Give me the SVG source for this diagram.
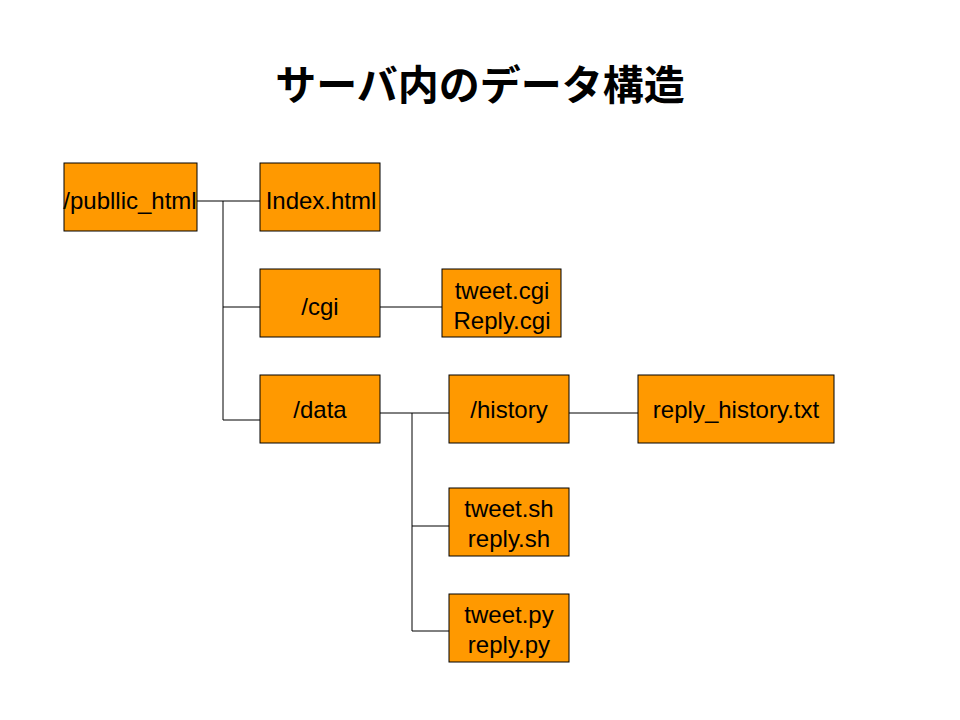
<svg xmlns="http://www.w3.org/2000/svg" width="960" height="720" viewBox="0 0 960 720">
<style>
.box{fill:#FF9900;stroke:#000;stroke-width:1}
.t{font-family:"Liberation Sans",Arial,sans-serif;font-size:24px;fill:#000;text-anchor:middle}
.title{font-family:"Noto Sans CJK JP","Noto Sans CJK SC",sans-serif;font-size:41px;font-weight:bold;fill:#000;text-anchor:middle}
.c{stroke:#000;stroke-width:1;fill:none}
</style>
<rect width="960" height="720" fill="#fff"/>
<text class="title" x="480" y="100">サーバ内のデータ構造</text>
<g id="connectors">
<path class="c" d="M197,201H260M223,201V420M223,307H260M223,420H260M380,307H442M380,413H449M412,413V631M412,526H449M412,631H449M569,413H638"/>
</g>
<g id="public_html"><rect class="box" x="64" y="163" width="133" height="68"/><text class="t" x="130" y="209">/publlic_html</text></g>
<g id="index_html"><rect class="box" x="260" y="163" width="120" height="68"/><text class="t" x="321" y="209">Index.html</text></g>
<g id="cgi"><rect class="box" x="260" y="269" width="120" height="68"/><text class="t" x="320" y="315">/cgi</text></g>
<g id="data"><rect class="box" x="260" y="375" width="120" height="68"/><text class="t" x="320" y="418">/data</text></g>
<g id="cgi_files"><rect class="box" x="442" y="269" width="119" height="68"/><text class="t" x="502" y="299">tweet.cgi</text><text class="t" x="502" y="329">Reply.cgi</text></g>
<g id="history"><rect class="box" x="449" y="375" width="120" height="68"/><text class="t" x="509" y="418">/history</text></g>
<g id="reply_history"><rect class="box" x="638" y="375" width="196" height="68"/><text class="t" x="736" y="418">reply_history.txt</text></g>
<g id="sh_files"><rect class="box" x="449" y="488" width="120" height="68"/><text class="t" x="509" y="517">tweet.sh</text><text class="t" x="509" y="547">reply.sh</text></g>
<g id="py_files"><rect class="box" x="449" y="594" width="120" height="68"/><text class="t" x="509" y="623">tweet.py</text><text class="t" x="509" y="653">reply.py</text></g>
</svg>
